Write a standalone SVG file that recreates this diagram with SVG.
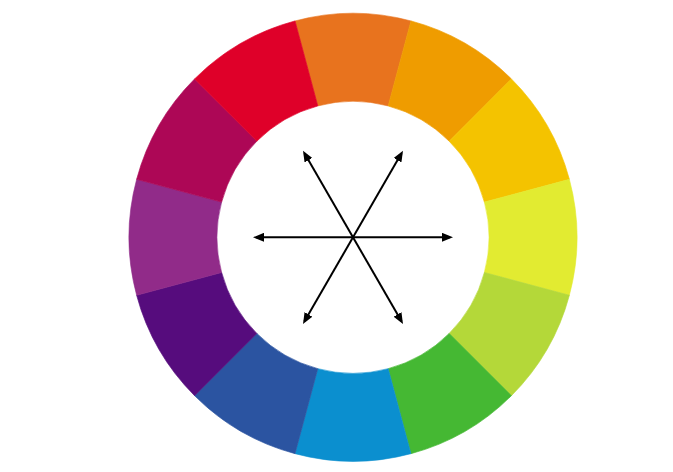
<svg xmlns="http://www.w3.org/2000/svg" xmlns:xlink="http://www.w3.org/1999/xlink" width="673" height="472" viewBox="0 0 673 472">
  <style>
    .seg { fill: currentColor; stroke: currentColor; stroke-width: 0.6; }
    .arrow { stroke: #000; stroke-width: 2; fill: none; marker-start: url(#head); marker-end: url(#head); }
  </style>
  <defs>
    <path id="seg" d="M -57.975 -216.367 A 224 224 0 0 1 57.975 -216.367 L 35.199 -131.366 A 136 136 0 0 0 -35.199 -131.366 Z"/>
    <marker id="head" viewBox="0 0 11 9" refX="8" refY="4.5" markerWidth="11" markerHeight="9" markerUnits="userSpaceOnUse" orient="auto-start-reverse">
      <path d="M0,0 L11,4.5 L0,9 Z" fill="#000"/>
    </marker>
  </defs>
  <rect width="673" height="472" fill="#fff"/>
  <g id="wheel" transform="translate(353,237.3)">
    <use id="seg-orange" xlink:href="#seg" href="#seg" class="seg" color="#E8731E" transform="rotate(0)"/>
    <use id="seg-yellow-orange" xlink:href="#seg" href="#seg" class="seg" color="#EF9C00" transform="rotate(30)"/>
    <use id="seg-amber" xlink:href="#seg" href="#seg" class="seg" color="#F4C300" transform="rotate(60)"/>
    <use id="seg-yellow" xlink:href="#seg" href="#seg" class="seg" color="#E2EB31" transform="rotate(90)"/>
    <use id="seg-yellow-green" xlink:href="#seg" href="#seg" class="seg" color="#B4D839" transform="rotate(120)"/>
    <use id="seg-green" xlink:href="#seg" href="#seg" class="seg" color="#45B833" transform="rotate(150)"/>
    <use id="seg-cyan" xlink:href="#seg" href="#seg" class="seg" color="#0B8FCF" transform="rotate(180)"/>
    <use id="seg-blue" xlink:href="#seg" href="#seg" class="seg" color="#2B54A1" transform="rotate(210)"/>
    <use id="seg-violet" xlink:href="#seg" href="#seg" class="seg" color="#560C7D" transform="rotate(240)"/>
    <use id="seg-purple" xlink:href="#seg" href="#seg" class="seg" color="#912B89" transform="rotate(270)"/>
    <use id="seg-magenta" xlink:href="#seg" href="#seg" class="seg" color="#AD0756" transform="rotate(300)"/>
    <use id="seg-red" xlink:href="#seg" href="#seg" class="seg" color="#DF0029" transform="rotate(330)"/>
  </g>
  <g id="connectors">
    <line class="arrow" x1="256" y1="237.3" x2="450" y2="237.3"/>
    <line class="arrow" x1="304.5" y1="153.3" x2="401.5" y2="321.3"/>
    <line class="arrow" x1="401.5" y1="153.3" x2="304.5" y2="321.3"/>
  </g>
</svg>
